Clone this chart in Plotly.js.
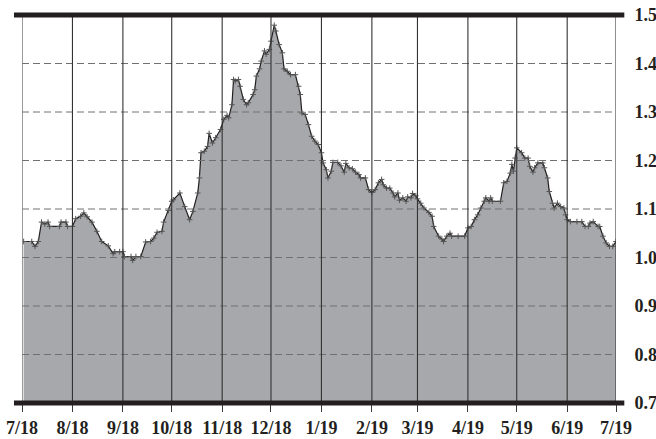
<!DOCTYPE html>
<html>
<head>
<meta charset="utf-8">
<script src="https://cdn.plot.ly/plotly-3.0.1.min.js"></script>
<style>html,body{margin:0;padding:0;background:#fff;}#chart{width:656px;height:439px;}</style>
</head>
<body>
<div id="chart"></div>
<script>
var dates = [
"2018-07-02","2018-07-07","2018-07-09","2018-07-11","2018-07-13","2018-07-15","2018-07-17","2018-07-18","2018-07-24","2018-07-25","2018-07-28","2018-07-29",
"2018-08-01","2018-08-03","2018-08-06","2018-08-08","2018-08-10","2018-08-13","2018-08-16","2018-08-19","2018-08-23","2018-08-26","2018-08-27","2018-08-30",
"2018-09-01","2018-09-02","2018-09-06","2018-09-07","2018-09-09","2018-09-12","2018-09-15","2018-09-18","2018-09-20","2018-09-22","2018-09-25","2018-09-26","2018-09-29",
"2018-10-01","2018-10-02","2018-10-06","2018-10-09","2018-10-12","2018-10-14","2018-10-17","2018-10-18","2018-10-19","2018-10-21","2018-10-23","2018-10-24","2018-10-26","2018-10-28","2018-10-31",
"2018-11-02","2018-11-04","2018-11-05","2018-11-07","2018-11-08","2018-11-09","2018-11-11","2018-11-12","2018-11-14","2018-11-16","2018-11-17","2018-11-20","2018-11-21","2018-11-22","2018-11-24","2018-11-25","2018-11-27","2018-11-28","2018-11-30",
"2018-12-01","2018-12-03","2018-12-04","2018-12-06","2018-12-08","2018-12-09","2018-12-11","2018-12-13","2018-12-16","2018-12-18","2018-12-19","2018-12-20","2018-12-22","2018-12-24","2018-12-26","2018-12-28","2018-12-30",
"2019-01-01","2019-01-02","2019-01-04","2019-01-05","2019-01-07","2019-01-08","2019-01-11","2019-01-13","2019-01-15","2019-01-16","2019-01-18","2019-01-20","2019-01-22","2019-01-24","2019-01-25","2019-01-28","2019-01-30",
"2019-02-01","2019-02-03","2019-02-05","2019-02-07","2019-02-08","2019-02-10","2019-02-12","2019-02-14","2019-02-15","2019-02-17","2019-02-18","2019-02-20","2019-02-22","2019-02-23","2019-02-25","2019-02-26","2019-02-28",
"2019-03-01","2019-03-03","2019-03-05","2019-03-08","2019-03-10","2019-03-11","2019-03-14","2019-03-16","2019-03-17","2019-03-19","2019-03-21","2019-03-22","2019-03-26","2019-03-30",
"2019-04-01","2019-04-03","2019-04-05","2019-04-07","2019-04-09","2019-04-11","2019-04-12","2019-04-14","2019-04-15","2019-04-16","2019-04-21","2019-04-23","2019-04-25","2019-04-27","2019-04-28","2019-04-29","2019-04-30",
"2019-05-01","2019-05-04","2019-05-06","2019-05-08","2019-05-09","2019-05-11","2019-05-12","2019-05-14","2019-05-17","2019-05-18","2019-05-20","2019-05-21","2019-05-23","2019-05-24","2019-05-26","2019-05-28","2019-05-30","2019-05-31",
"2019-06-01","2019-06-03","2019-06-07","2019-06-10","2019-06-12","2019-06-14","2019-06-15","2019-06-17","2019-06-20","2019-06-21","2019-06-23","2019-06-25","2019-06-27","2019-06-29","2019-07-01"
];
var values = [
1.033,1.033,1.023,1.033,1.073,1.069,1.073,1.064,1.064,1.073,1.073,1.064,
1.064,1.080,1.085,1.092,1.084,1.073,1.054,1.033,1.024,1.008,1.012,1.012,
1.012,1.002,1.002,0.994,1.002,1.002,1.032,1.033,1.040,1.052,1.054,1.073,1.097,
1.116,1.119,1.133,1.105,1.078,1.095,1.133,1.164,1.216,1.219,1.229,1.256,1.236,1.247,1.264,
1.285,1.293,1.288,1.315,1.367,1.364,1.367,1.353,1.326,1.315,1.319,1.336,1.346,1.374,1.389,1.405,1.426,1.419,1.429,
1.446,1.479,1.467,1.439,1.422,1.389,1.384,1.377,1.377,1.353,1.336,1.298,1.295,1.274,1.250,1.240,1.233,
1.216,1.195,1.181,1.164,1.178,1.196,1.196,1.189,1.176,1.194,1.185,1.183,1.176,1.171,1.164,1.164,1.140,
1.134,1.140,1.154,1.161,1.150,1.143,1.143,1.133,1.125,1.133,1.118,1.123,1.116,1.125,1.123,1.132,1.127,
1.121,1.112,1.102,1.093,1.085,1.064,1.044,1.038,1.033,1.044,1.050,1.044,1.044,1.044,
1.061,1.064,1.078,1.088,1.102,1.116,1.123,1.116,1.123,1.116,1.116,1.154,1.157,1.174,1.192,1.178,1.205,
1.226,1.216,1.205,1.205,1.188,1.176,1.185,1.195,1.195,1.185,1.164,1.136,1.112,1.102,1.112,1.105,1.102,1.088,
1.078,1.074,1.074,1.074,1.064,1.064,1.071,1.074,1.064,1.064,1.044,1.030,1.023,1.023,1.033
];
var monthTicks = ["2018-07-01","2018-08-01","2018-09-01","2018-10-01","2018-11-01","2018-12-01",
                  "2019-01-01","2019-02-01","2019-03-01","2019-04-01","2019-05-01","2019-06-01","2019-07-01"];
var monthLabels = ["7/18","8/18","9/18","10/18","11/18","12/18","1/19","2/19","3/19","4/19","5/19","6/19","7/19"];
var yTicks = [0.7,0.8,0.9,1.0,1.1,1.2,1.3,1.4,1.5];
var yTickText = ["0.7","0.8","0.9","1.0","1.1","1.2","1.3","1.4","1.5"];

var tickFont = {family: "Liberation Serif, Times New Roman, serif", size: 18, color: "#231f20", weight: "bold"};

var trace = {
  x: dates, y: values, type: "scatter", mode: "lines+markers",
  fill: "tozeroy", fillcolor: "#a7a8ab",
  line: {color: "#231f20", width: 1.2},
  marker: {symbol: "cross-thin", size: 4, line: {color: "#555", width: 1}, color: "#555"},
  hoverinfo: "skip"
};

var shapes = [];
// dashed horizontal gridlines drawn above the fill
yTicks.forEach(function (v) {
  if (v > 0.7 && v < 1.5) {
    shapes.push({type: "line", xref: "paper", yref: "y", x0: 0, x1: 1, y0: v, y1: v,
      line: {color: "#707070", width: 1, dash: "7px,4px"}, layer: "above"});
  }
});
// solid vertical month gridlines drawn above the fill
monthTicks.forEach(function (d, i) {
  shapes.push({type: "line", xref: "x", yref: "paper", x0: d, x1: d, y0: 0, y1: 1,
    line: {color: i === 0 ? "#808080" : "#333333", width: i === 0 ? 1.6 : 1.1}, layer: "above"});
});
// thick top and bottom rules
shapes.push({type: "line", xref: "paper", yref: "paper", x0: -0.0135, x1: 1.014, y0: 1, y1: 1, line: {color: "#231f20", width: 5}, layer: "above"});
shapes.push({type: "line", xref: "paper", yref: "paper", x0: -0.0135, x1: 1.014, y0: 0, y1: 0, line: {color: "#231f20", width: 5}, layer: "above"});

var layout = {
  width: 656, height: 439,
  margin: {l: 22, r: 40, t: 15, b: 36, pad: 0},
  paper_bgcolor: "#fff", plot_bgcolor: "#fff",
  showlegend: false,
  xaxis: {
    type: "date", range: ["2018-07-01", "2019-07-01"],
    tickmode: "array", tickvals: monthTicks, ticktext: monthLabels,
    showgrid: false,
    ticks: "outside", ticklen: 8, tickcolor: "#3a3a3a", tickwidth: 1,
    showline: false, zeroline: false,
    tickfont: tickFont
  },
  yaxis: {
    range: [0.7, 1.5], side: "right",
    tickvals: yTicks, ticktext: yTickText,
    showgrid: false,
    ticks: "outside", ticklen: 14, tickcolor: "rgba(0,0,0,0)",
    showline: false, zeroline: false,
    tickfont: tickFont
  },
  shapes: shapes
};

Plotly.newPlot("chart", [trace], layout, {staticPlot: true, displayModeBar: false});
</script>
</body>
</html>
